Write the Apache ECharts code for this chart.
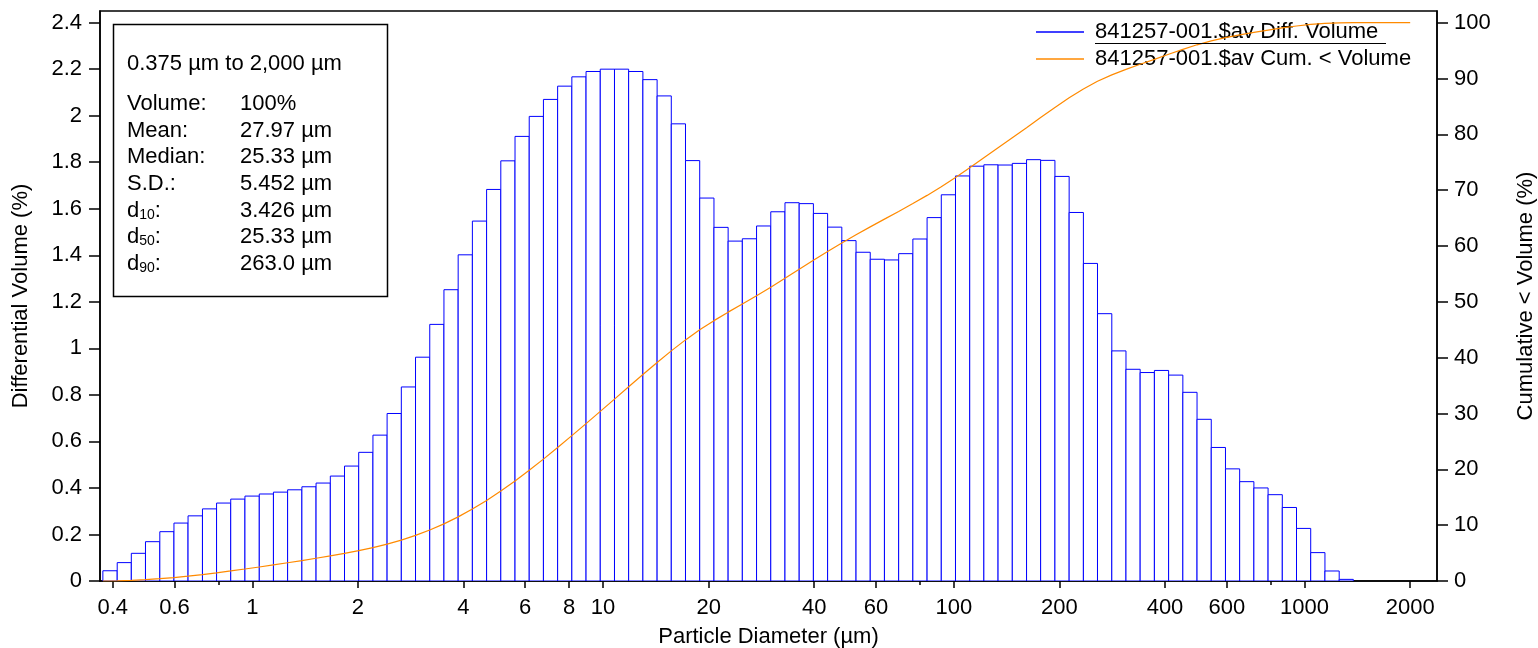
<!DOCTYPE html>
<html><head><meta charset="utf-8">
<script src="https://cdn.jsdelivr.net/npm/echarts@6/dist/echarts.min.js"></script>
<style>html,body{margin:0;padding:0;background:#fff}#c{width:1538px;height:648px}</style>
</head><body><div id="c"></div>
<script>
// Channel (bin) edges in µm
const binEdges = [0.375,0.412,0.452,0.496,0.545,0.598,0.656,0.721,0.791,0.868,0.953,1.047,1.149,1.261,1.385,1.520,1.669,1.832,2.011,2.208,2.423,2.660,2.920,3.206,3.519,3.863,4.241,4.656,5.111,5.611,6.159,6.761,7.422,8.148,8.944,9.819,10.78,11.83,12.99,14.26,15.65,17.18,18.86,20.71,22.73,24.95,27.39,30.07,33.01,36.24,39.78,43.67,47.94,52.63,57.77,63.42,69.62,76.43,83.90,92.10,101.1,111.0,121.8,133.7,146.8,161.2,176.8,194.2,213.2,234.1,256.8,282.1,309.6,339.8,373.1,409.6,449.7,493.6,541.9,594.9,653.0,716.9,786.9,863.9,948.3,1041,1143,1255,1377,1512,1660,1822,2000];
// Differential volume (%) per channel
const diffVolume = [0.044,0.079,0.119,0.169,0.212,0.249,0.280,0.310,0.335,0.352,0.365,0.374,0.382,0.392,0.405,0.421,
  0.451,0.494,0.553,0.627,0.720,0.834,0.962,1.103,1.252,1.402,
  1.547,1.683,1.806,1.911,1.997,2.070,2.127,2.167,2.190,2.200,2.200,2.190,2.155,2.085,1.965,1.807,
  1.646,1.520,1.461,1.471,1.526,1.587,1.626,1.622,1.580,1.521,1.463,1.413,1.383,1.380,1.407,1.470,1.562,1.660,1.741,
  1.783,1.789,1.788,1.795,1.811,1.808,1.739,1.584,1.365,
  1.149,0.989,0.910,0.896,0.905,0.885,0.811,0.695,0.574,0.482,
  0.427,0.400,0.371,0.316,0.226,0.122,0.043,0.007,
  0,0,0,0];
// Cumulative < volume (%) at each channel edge
const cumVolume = [0,0.04,0.12,0.24,0.41,0.62,0.87,1.15,1.46,1.80,2.15,2.51,2.89,3.27,3.66,4.07,4.49,4.94,5.43,5.99,6.61,7.33,8.17,9.13,10.23,11.48,12.89,14.43,16.12,17.92,19.83,21.83,23.90,26.03,28.19,30.38,32.58,34.78,36.97,39.13,41.21,43.18,44.99,46.63,48.15,49.61,51.08,52.61,54.20,55.82,57.45,59.03,60.55,62.01,63.42,64.81,66.19,67.59,69.06,70.62,72.28,74.03,75.81,77.60,79.39,81.18,82.99,84.80,86.54,88.12,89.49,90.64,91.63,92.54,93.43,94.34,95.22,96.03,96.73,97.30,97.80,98.25,98.66,99.05,99.40,99.68,99.88,99.97,100,100,100,100,100];

const xTickLabels = [0.4,0.6,1,2,4,6,8,10,20,40,60,100,200,400,600,1000,2000];
const xMinorTicks = [0.8,80,800];
const leftTicks = [0,0.2,0.4,0.6,0.8,1,1.2,1.4,1.6,1.8,2,2.2,2.4];
const rightTicks = [0,10,20,30,40,50,60,70,80,90,100];
const seriesNames = ['841257-001.$av Diff. Volume','841257-001.$av Cum. < Volume'];
const statsRange = '0.375 µm to 2,000 µm';
const statsLabels = ['Volume:','Mean:','Median:','S.D.:','d{s|10}:','d{s|50}:','d{s|90}:'];
const statsValues = ['100%','27.97 µm','25.33 µm','5.452 µm','3.426 µm','25.33 µm','263.0 µm'];

const FONT = "'Liberation Sans', Arial, sans-serif";
const FS = 22;
const BLUE = '#0000ff';
const ORANGE = '#ff8a00';

const barData = diffVolume.map((v,i)=>[binEdges[i], binEdges[i+1], v]);
const cumData = binEdges.map((e,i)=>[e, cumVolume[i]]);

const chart = echarts.init(document.getElementById('c'), null, {renderer:'canvas'});

const statsGraphics = [];
statsGraphics.push({type:'rect', shape:{x:113.5,y:24.5,width:274,height:272}, style:{fill:'#fff',stroke:'#000',lineWidth:1.5}, z:10});
statsGraphics.push({type:'text', x:127, y:64, style:{text:statsRange, font:FS+'px '+FONT, fill:'#000', verticalAlign:'middle'}, z:11});
statsLabels.forEach((lab,i)=>{
  const y = 104 + i*26.67;
  statsGraphics.push({type:'text', x:127, y:y, style:{text:lab, fontSize:FS, fontFamily:FONT, fill:'#000', verticalAlign:'middle',
    rich:{s:{fontSize:14, fontFamily:FONT, verticalAlign:'bottom', padding:[6,0,0,0]}}}, z:11});
  statsGraphics.push({type:'text', x:240, y:y, style:{text:statsValues[i], font:FS+'px '+FONT, fill:'#000', verticalAlign:'middle'}, z:11});
});
statsGraphics.push({type:'line', shape:{x1:1095,y1:43.5,x2:1386,y2:43.5}, style:{stroke:'#000',lineWidth:1.2}, z:11});

const fmt = v => String(+(+v).toPrecision(6));

chart.setOption({
  animation:false,
  backgroundColor:'#fff',
  textStyle:{fontFamily:FONT},
  grid:{left:100,right:101,top:11,bottom:67,show:true,borderColor:'#000',borderWidth:1.5,containLabel:false,outerBoundsMode:'none'},
  legend:{
    orient:'vertical', left:1031, top:16, itemWidth:48, itemHeight:1.5, itemGap:5, selectedMode:false,
    textStyle:{fontSize:FS, color:'#000', fontFamily:FONT, padding:[0,0,0,6]},
    data:[{name:seriesNames[0], icon:'rect', itemStyle:{color:BLUE}},{name:seriesNames[1], icon:'rect', itemStyle:{color:ORANGE}}]
  },
  xAxis:[{
    type:'log', logBase:10, min:0.368, max:2385,
    name:'Particle Diameter (µm)', nameLocation:'middle', nameGap:45,
    nameTextStyle:{fontSize:FS, color:'#000', fontFamily:FONT},
    axisLine:{show:true, lineStyle:{color:'#000', width:1.5}},
    axisTick:{show:true, customValues:xTickLabels, length:7, lineStyle:{color:'#000', width:1.5}},
    axisLabel:{show:true, customValues:xTickLabels, margin:16, fontSize:FS, color:'#000', fontFamily:FONT, formatter:fmt},
    splitLine:{show:false}, minorTick:{show:false}
  },{
    type:'log', logBase:10, min:0.368, max:2385, position:'bottom',
    axisLine:{show:false},
    axisTick:{show:true, customValues:xMinorTicks, length:4, lineStyle:{color:'#000', width:1.5}},
    axisLabel:{show:false}, splitLine:{show:false}
  }],
  yAxis:[{
    type:'value', min:0, max:2.45, position:'left',
    name:'Differential Volume (%)', nameLocation:'middle', nameGap:68, nameRotate:90,
    nameTextStyle:{fontSize:FS, color:'#000', fontFamily:FONT},
    axisLine:{show:true, lineStyle:{color:'#000', width:1.5}},
    axisTick:{show:true, customValues:leftTicks, length:11, lineStyle:{color:'#000', width:1.5}},
    axisLabel:{show:true, customValues:leftTicks, margin:18, fontSize:FS, color:'#000', fontFamily:FONT, formatter:fmt},
    splitLine:{show:false}
  },{
    type:'value', min:0, max:102.083, position:'right',
    name:'Cumulative < Volume (%)', nameLocation:'middle', nameGap:78, nameRotate:90,
    nameTextStyle:{fontSize:FS, color:'#000', fontFamily:FONT},
    axisLine:{show:true, lineStyle:{color:'#000', width:1.5}},
    axisTick:{show:true, customValues:rightTicks, length:11, lineStyle:{color:'#000', width:1.5}},
    axisLabel:{show:true, customValues:rightTicks, margin:17, fontSize:FS, color:'#000', fontFamily:FONT, formatter:fmt},
    splitLine:{show:false}
  }],
  series:[{
    name:seriesNames[0], type:'custom', xAxisIndex:0, yAxisIndex:0, itemStyle:{color:BLUE},
    clip:true, data:barData,
    renderItem:function(params, api){
      const lo = api.value(0), hi = api.value(1), v = api.value(2);
      if (!(v > 0)) return null;
      const p0 = api.coord([lo, 0]);
      const p1 = api.coord([hi, v]);
      return {type:'rect', shape:{x:p0[0], y:p1[1], width:p1[0]-p0[0], height:p0[1]-p1[1]},
        style:{fill:'#fff', stroke:BLUE, lineWidth:1}};
    }
  },{
    name:seriesNames[1], type:'line', xAxisIndex:0, yAxisIndex:1, data:cumData,
    showSymbol:false, symbol:'none', smooth:false, z:5,
    lineStyle:{color:ORANGE, width:1.2}, itemStyle:{color:ORANGE}
  }],
  graphic:statsGraphics
});
</script></body></html>
